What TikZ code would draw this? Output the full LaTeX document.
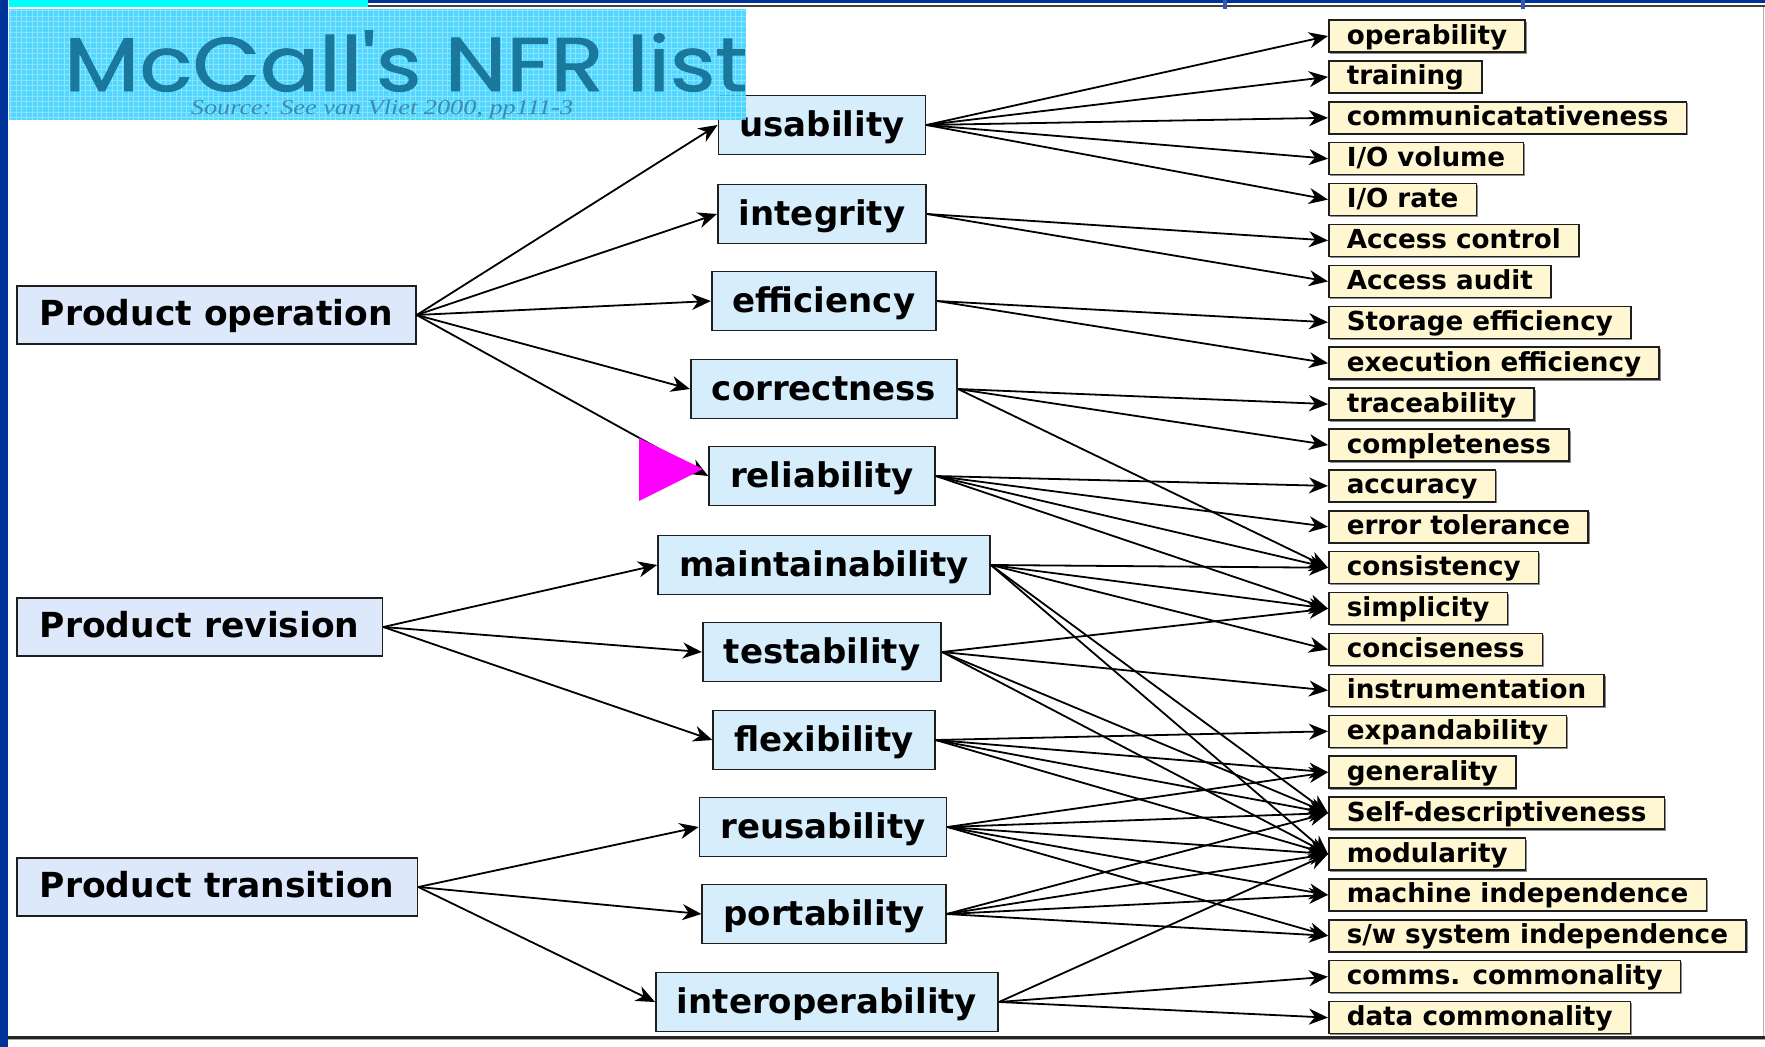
\documentclass[tikz,border=0pt]{standalone}
\usepackage{fontspec}
\setmainfont{DejaVu Sans}
\newfontfamily\titlefont[FakeBold=1.2]{Poppins}
\newfontfamily\srcfont{Liberation Serif}
\usetikzlibrary{arrows.meta,shadows}
\definecolor{navy}{RGB}{0,51,153}
\definecolor{cyanbar}{RGB}{0,255,255}
\definecolor{titlefill}{RGB}{60,210,255}
\definecolor{titlegrid}{RGB}{150,232,255}
\definecolor{titletext}{RGB}{25,120,155}
\definecolor{boxline}{RGB}{30,30,30}
\definecolor{leftfill}{RGB}{221,232,251}
\definecolor{midfill}{RGB}{214,237,252}
\definecolor{attrfill}{RGB}{255,246,210}
\definecolor{magentatri}{RGB}{255,0,255}
\tikzset{
  catbox/.style={draw=boxline, line width=1.8pt, fill=leftfill, anchor=west,
    font=\fontsize{34.5}{40}\selectfont\bfseries, inner xsep=23pt, inner ysep=0pt,
    minimum height=58pt, text height=28pt, text depth=8pt},
  midbox/.style={draw=boxline, line width=1.8pt, fill=midfill,
    font=\fontsize{34}{40}\selectfont\bfseries, inner xsep=21pt, inner ysep=0pt,
    minimum height=59pt, text height=30pt, text depth=7pt},
  attr/.style={draw=boxline, line width=1.5pt, fill=attrfill, anchor=west,
    font=\fontsize{26.2}{30}\selectfont\bfseries, inner xsep=18pt, inner ysep=0pt,
    minimum height=32pt, text height=22pt, text depth=6pt,
    drop shadow={shadow xshift=1.5pt, shadow yshift=-1.5pt, fill=black!45, opacity=1}},
  conn/.style={-{Stealth[length=19pt,width=16pt,inset=6pt]}, line width=1.8pt, draw=black}
}
\begin{document}
\begin{tikzpicture}[x=1pt,y=-1pt]
\useasboundingbox (0,0) rectangle (1765,1047);
\fill[white] (0,0) rectangle (1765,1047);
% frame decorations
\fill[navy] (0,0) rectangle (8,1047);
\fill[cyanbar] (9,0) rectangle (368,7);
\fill[navy] (368,0) rectangle (1765,2.5);
\fill[black!75] (368,4.5) rectangle (1765,7);
\fill[navy!80!white] (1223,0) rectangle (1227,9);
\fill[navy!80!white] (1521,0) rectangle (1525,9);
\draw[gray!60, line width=1pt] (1763,7) -- (1763,1036);
\fill[black!85] (8,1035.5) rectangle (1765,1038.5);
\fill[black!35] (8,1038.5) rectangle (1765,1040);

% left categories
\node[catbox] (po) at (16,315) {Product operation};
\node[catbox] (pr) at (16,627) {Product revision};
\node[catbox] (pt) at (16,887) {Product transition};

% middle factors
\node[midbox] (use) at (822,125) {usability};
\node[midbox] (int) at (822,214) {integrity};
\node[midbox] (eff) at (824,301) {efficiency};
\node[midbox] (cor) at (824,389) {correctness};
\node[midbox] (rel) at (822,476) {reliability};
\node[midbox] (mai) at (824,565) {maintainability};
\node[midbox] (tes) at (822,652) {testability};
\node[midbox] (fle) at (824,740) {flexibility};
\node[midbox] (reu) at (823,827) {reusability};
\node[midbox] (por) at (824,914) {portability};
\node[midbox] (ito) at (827,1002) {interoperability};

% right criteria
\foreach \t [count=\i] in {operability, training, communicatativeness, I/O volume, I/O rate,
  Access control, Access audit, Storage efficiency, execution efficiency, traceability,
  completeness, accuracy, error tolerance, consistency, simplicity, conciseness,
  instrumentation, expandability, generality, Self-descriptiveness, modularity,
  machine independence, s/w system independence, comms. commonality, data commonality}
  \node[attr] (a\i) at (1328,{36+40.9*(\i-1)}) {\t};

% category -> factor
\foreach \m in {use,int,eff,cor,rel} \draw[conn] (po.east) -- (\m.west);
\foreach \m in {mai,tes,fle} \draw[conn] (pr.east) -- (\m.west);
\foreach \m in {reu,por,ito} \draw[conn] (pt.east) -- (\m.west);

% factor -> criteria
\foreach \t in {1,2,3,4,5} \draw[conn] (use.east) -- (a\t.west);
\foreach \t in {6,7} \draw[conn] (int.east) -- (a\t.west);
\foreach \t in {8,9} \draw[conn] (eff.east) -- (a\t.west);
\foreach \t in {10,11,14} \draw[conn] (cor.east) -- (a\t.west);
\foreach \t in {12,13,14,15} \draw[conn] (rel.east) -- (a\t.west);
\foreach \t in {14,15,16,20,21} \draw[conn] (mai.east) -- (a\t.west);
\foreach \t in {15,17,20,21} \draw[conn] (tes.east) -- (a\t.west);
\foreach \t in {18,19,20,21} \draw[conn] (fle.east) -- (a\t.west);
\foreach \t in {19,20,21,22,23} \draw[conn] (reu.east) -- (a\t.west);
\foreach \t in {20,21,22,23} \draw[conn] (por.east) -- (a\t.west);
\foreach \t in {21,24,25} \draw[conn] (ito.east) -- (a\t.west);

% magenta pointer
\fill[magentatri] (639,438) -- (639,501) -- (703,469) -- cycle;

% title block
\begin{scope}
\clip (9,9) rectangle (746,120);
\fill[titlefill, fill opacity=0.88] (9,9) rectangle (746,120);
\draw[titlegrid, line width=0.7pt, opacity=0.8, step=5.33pt] (9,9) grid (746,120);
\node[text=titletext, font=\titlefont\fontsize{76}{80}\selectfont, anchor=base west, inner sep=0pt, text depth=0pt] (title) at (64,91) {\scalebox{1.15}[1]{McCall's NFR list}};
\node[text=titletext!85!white, font=\srcfont\itshape\fontsize{21}{25}\selectfont, anchor=base, inner sep=0pt] (source) at (382,114) {\scalebox{1.25}[1]{Source: See van Vliet 2000, pp111-3}};
\end{scope}
\end{tikzpicture}
\end{document}
